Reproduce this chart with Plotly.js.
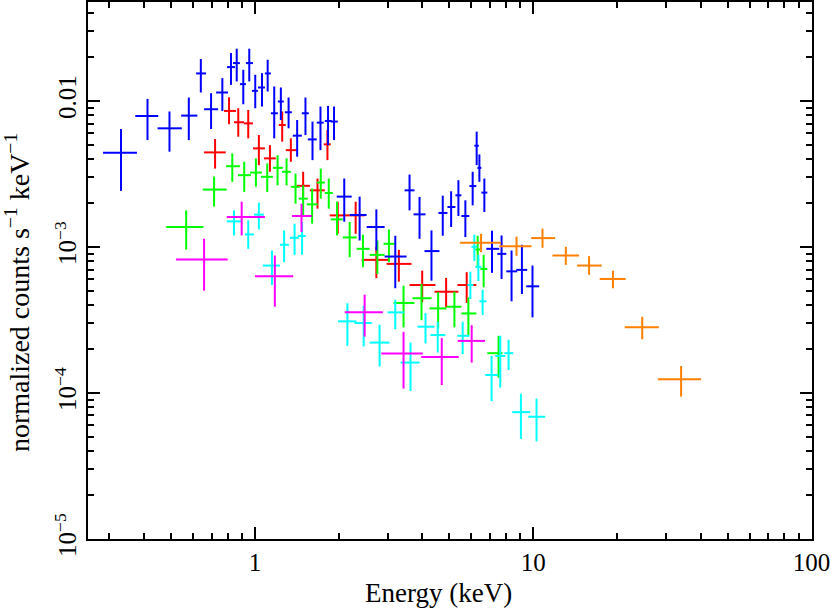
<!DOCTYPE html>
<html><head><meta charset="utf-8">
<script src="https://cdn.plot.ly/plotly-3.0.1.min.js"></script>
<style>html,body{margin:0;padding:0;background:#fff}#plot{width:830px;height:608px}</style>
</head><body><div id="plot"></div>
<script>
// ---- data (energy in keV, normalized counts s^-1 keV^-1); lo/hi are bin / error bounds ----
const redE   = [0.719,0.807,0.871,0.946,1.033,1.132,1.253,1.346,1.490,1.678,1.822,1.984,2.301,2.731,3.290,3.991,4.865,5.768];
const redElo = [0.6565,0.774,0.841,0.913,0.984,1.077,1.219,1.291,1.414,1.575,1.767,1.857,2.190,2.418,2.972,3.594,4.418,5.340];
const redEhi = [0.785,0.855,0.913,0.984,1.086,1.189,1.291,1.414,1.575,1.782,1.873,2.190,2.479,3.047,3.653,4.454,5.385,6.248];
const redF   = [4.44e-3,8.54e-3,7.14e-3,7.02e-3,4.73e-3,4.04e-3,6.84e-3,4.60e-3,2.62e-3,2.44e-3,5.04e-3,1.644e-3,1.644e-3,8.15e-4,7.65e-4,5.48e-4,4.93e-4,5.48e-4];
const redFhi = [5.48e-3,1.06e-2,8.91e-3,8.67e-3,5.84e-3,4.98e-3,8.46e-3,5.54e-3,3.27e-3,2.94e-3,6.32e-3,2.04e-3,2.04e-3,1.002e-3,9.55e-4,6.88e-4,6.13e-4,6.71e-4];
const redFlo = [3.44e-3,6.92e-3,5.69e-3,5.54e-3,3.63e-3,3.27e-3,5.26e-3,3.83e-3,2.14e-3,1.828e-3,3.93e-3,1.23e-3,1.23e-3,6.10e-4,5.78e-4,4.17e-4,3.85e-4,4.13e-4];

const greenE   = [0.566,0.713,0.829,0.915,1.008,1.107,1.206,1.299,1.399,1.490,1.605,1.724,1.842,1.972,2.190,2.444,2.754,3.030,3.420,3.968,4.553,5.210,5.848,6.316,6.636,7.510];
const greenElo = [0.480,0.6495,0.787,0.869,0.960,1.051,1.160,1.250,1.346,1.438,1.536,1.668,1.782,1.873,2.068,2.320,2.584,2.900,3.149,3.684,4.239,4.877,5.520,6.196,6.457,6.842];
const greenEhi = [0.653,0.792,0.883,0.968,1.0595,1.160,1.260,1.346,1.450,1.549,1.682,1.782,1.904,2.068,2.320,2.584,2.924,3.176,3.745,4.309,4.877,5.520,6.248,6.457,6.842,7.76];
const greenF   = [1.368e-3,2.47e-3,3.57e-3,3.10e-3,3.23e-3,3.02e-3,3.48e-3,3.27e-3,2.58e-3,2.14e-3,1.956e-3,2.76e-3,2.34e-3,1.543e-3,1.161e-3,9.70e-4,8.82e-4,1.05e-3,4.13e-4,4.45e-4,3.79e-4,3.89e-4,3.50e-4,9.60e-4,7.07e-4,1.87e-4];
const greenFhi = [1.779e-3,3.03e-3,4.37e-3,3.83e-3,4.04e-3,3.73e-3,4.25e-3,4.04e-3,3.18e-3,2.64e-3,2.51e-3,3.44e-3,2.94e-3,2.04e-3,1.481e-3,1.211e-3,1.107e-3,1.317e-3,5.42e-4,5.57e-4,4.89e-4,4.93e-4,4.51e-4,1.192e-3,8.82e-4,2.46e-4];
const greenFlo = [9.60e-4,1.887e-3,2.79e-3,2.38e-3,2.58e-3,2.38e-3,2.64e-3,2.64e-3,1.978e-3,1.644e-3,1.442e-3,2.14e-3,1.828e-3,1.198e-3,8.51e-4,7.26e-4,6.53e-4,7.86e-4,2.81e-4,3.15e-4,2.76e-4,2.81e-4,2.46e-4,7.30e-4,5.29e-4,1.272e-4];

const blueE   = [0.330,0.411,0.493,0.5785,0.639,0.6955,0.7635,0.820,0.860,0.908,0.954,1.0025,1.060,1.111,1.173,1.239,1.321,1.418,1.519,1.610,1.720,1.831,1.924,2.094,2.378,2.731,3.194,3.594,3.904,4.309,4.731,5.070,5.385,5.705,6.060,6.264,6.406,6.675,7.112,7.698,8.360,9.108,9.942];
const blueElo = [0.2845,0.3715,0.4467,0.543,0.6145,0.6565,0.725,0.794,0.834,0.883,0.928,0.9755,1.025,1.086,1.141,1.209,1.281,1.368,1.474,1.549,1.668,1.782,1.873,1.967,2.190,2.520,2.924,3.449,3.714,4.068,4.565,4.918,5.253,5.520,5.898,6.145,6.300,6.512,6.786,7.430,8.003,8.690,9.438];
const blueEhi = [0.3767,0.449,0.546,0.621,0.6675,0.737,0.800,0.848,0.883,0.928,0.984,1.025,1.086,1.141,1.209,1.270,1.357,1.474,1.561,1.668,1.767,1.888,1.984,2.227,2.520,2.924,3.506,3.745,4.102,4.604,4.918,5.253,5.520,5.898,6.248,6.379,6.512,6.842,7.553,8.003,8.763,9.517,10.51];
const blueF   = [4.42e-3,7.88e-3,6.49e-3,7.93e-3,1.543e-2,8.77e-3,1.142e-2,1.705e-2,1.816e-2,1.303e-2,1.816e-2,1.172e-2,1.236e-2,1.543e-2,8.23e-3,9.91e-3,8.36e-3,5.78e-3,8.23e-3,5.45e-3,7.10e-3,7.29e-3,7.22e-3,2.21e-3,1.655e-3,1.368e-3,8.59e-4,2.44e-3,1.671e-3,9.36e-4,1.708e-3,1.877e-3,2.257e-3,1.628e-3,2.61e-3,4.93e-3,3.48e-3,2.355e-3,9.70e-4,8.96e-4,6.80e-4,6.96e-4,5.37e-4];
const blueFhi = [6.42e-3,1.032e-2,8.46e-3,1.055e-2,1.935e-2,1.13e-2,1.433e-2,2.128e-2,2.279e-2,1.634e-2,2.279e-2,1.51e-2,1.55e-2,1.914e-2,1.256e-2,1.236e-2,1.055e-2,7.40e-3,1.055e-2,7.22e-3,9.15e-3,9.24e-3,9.15e-3,2.94e-3,2.21e-3,1.807e-3,1.192e-3,3.13e-3,2.20e-3,1.297e-3,2.245e-3,2.404e-3,2.862e-3,2.085e-3,3.27e-3,6.16e-3,4.30e-3,2.94e-3,1.29e-3,1.198e-3,9.45e-4,1.034e-3,7.45e-4];
const blueFlo = [2.42e-3,5.39e-3,4.49e-3,5.39e-3,1.142e-2,6.42e-3,8.54e-3,1.288e-2,1.36e-2,9.49e-3,1.36e-2,8.91e-3,9.15e-3,1.16e-2,5.54e-3,7.40e-3,6.49e-3,4.15e-3,5.84e-3,3.93e-3,4.60e-3,4.98e-3,5.39e-3,1.488e-3,1.107e-3,9.45e-4,5.21e-4,1.779e-3,1.137e-3,5.87e-4,1.192e-3,1.368e-3,1.628e-3,1.168e-3,1.926e-3,3.63e-3,2.79e-3,1.735e-3,6.64e-4,6.03e-4,4.24e-4,4.76e-4,3.29e-4];

const cyanE   = [0.841,0.946,1.033,1.151,1.273,1.388,1.477,2.149,2.459,2.805,3.194,3.623,4.102,4.539,5.579,5.945,6.145,6.352,6.581,7.087,7.615,8.157,9.033,10.28];
const cyanElo = [0.792,0.921,0.992,1.068,1.229,1.335,1.426,1.989,2.283,2.584,2.997,3.337,3.839,4.274,5.340,5.800,5.996,6.196,6.406,6.730,7.309,7.873,8.408,9.596];
const cyanEhi = [0.896,0.992,1.077,1.229,1.324,1.438,1.523,2.315,2.627,3.047,3.449,3.904,4.418,4.837,5.898,6.095,6.300,6.512,6.786,7.492,7.937,8.477,9.754,11.04];
const cyanF   = [1.495e-3,1.217e-3,1.663e-3,7.45e-4,1.034e-3,1.155e-3,1.187e-3,3.09e-4,3.01e-4,2.21e-4,3.56e-4,1.613e-4,2.84e-4,2.49e-4,2.46e-4,5.48e-4,1.002e-3,7.30e-4,4.24e-4,1.326e-4,1.79e-4,1.87e-4,7.38e-5,6.86e-5];
const cyanFhi = [1.779e-3,1.519e-3,2.01e-3,9.45e-4,1.297e-3,1.442e-3,1.481e-3,4.11e-4,3.95e-4,2.93e-4,4.35e-4,2.21e-4,3.52e-4,3.07e-4,3.07e-4,6.77e-4,1.211e-3,8.82e-4,5.09e-4,1.79e-4,2.46e-4,2.31e-4,9.87e-5,9.12e-5];
const cyanFlo = [1.198e-3,9.70e-4,1.317e-3,5.48e-4,7.86e-4,8.82e-4,8.82e-4,2.10e-4,2.08e-4,1.514e-4,2.73e-4,1.029e-4,2.18e-4,1.89e-4,1.84e-4,4.40e-4,8.02e-4,5.84e-4,3.41e-4,8.78e-5,1.086e-4,1.435e-4,4.84e-5,4.66e-5];

const magE   = [0.6565,0.896,1.179,1.470,2.479,3.420,4.692,6.011];
const magElo = [0.520,0.792,1.0,1.360,2.102,2.845,3.959,5.353];
const magEhi = [0.798,1.086,1.372,1.605,2.883,4.011,5.399,6.713];
const magF   = [8.19e-4,1.603e-3,6.30e-4,1.628e-3,3.56e-4,1.86e-4,1.763e-4,2.27e-4];
const magFhi = [1.137e-3,2.04e-3,8.73e-4,1.978e-3,4.71e-4,2.62e-4,2.37e-4,2.91e-4];
const magFlo = [5.01e-4,1.198e-3,3.89e-4,1.264e-3,2.43e-4,1.069e-4,1.131e-4,1.613e-4];

const orE   = [6.495,8.710,10.80,13.10,15.88,19.35,24.65,34.01];
const orElo = [5.462,7.553,9.835,11.73,14.38,17.34,21.32,28.05];
const orEhi = [7.660,9.860,11.99,14.62,17.63,21.49,28.29,40.11];
const orF   = [1.067e-3,1.009e-3,1.149e-3,8.73e-4,7.45e-4,6.03e-4,2.81e-4,1.238e-4];
const orFhi = [1.23e-3,1.174e-3,1.332e-3,1.002e-3,8.64e-4,6.88e-4,3.32e-4,1.528e-4];
const orFlo = [9.21e-4,8.69e-4,9.86e-4,7.53e-4,6.43e-4,5.21e-4,2.33e-4,9.42e-5];

const xTickVals = [1, 10, 100];
const xTickText = ['1', '10', '100'];
const yTickVals = [1e-5, 1e-4, 1e-3, 1e-2];
const yTickText = ['10<sup>\u22125</sup>', '10<sup>\u22124</sup>', '10<sup>\u22123</sup>', '0.01'];
const xTitle = 'Energy (keV)';
const yTitle = 'normalized counts s<sup>\u22121</sup> keV<sup>\u22121</sup>';

// ---- build ----
function cross(E, Elo, Ehi, F, Flo, Fhi, color) {
  return {
    x: E, y: F, type: 'scatter', mode: 'markers',
    marker: {size: 1, color: color, opacity: 0},
    error_x: {type: 'data', symmetric: false,
      array: E.map((v, i) => Ehi[i] - v), arrayminus: E.map((v, i) => v - Elo[i]),
      color: color, thickness: 2, width: 0},
    error_y: {type: 'data', symmetric: false,
      array: F.map((v, i) => Fhi[i] - v), arrayminus: F.map((v, i) => v - Flo[i]),
      color: color, thickness: 2, width: 0},
    hoverinfo: 'skip', showlegend: false
  };
}
const data = [
  cross(redE, redElo, redEhi, redF, redFlo, redFhi, '#ff0000'),
  cross(greenE, greenElo, greenEhi, greenF, greenFlo, greenFhi, '#00ff00'),
  cross(blueE, blueElo, blueEhi, blueF, blueFlo, blueFhi, '#0000ff'),
  cross(cyanE, cyanElo, cyanEhi, cyanF, cyanFlo, cyanFhi, '#00ffff'),
  cross(magE, magElo, magEhi, magF, magFlo, magFhi, '#ff00ff'),
  cross(orE, orElo, orEhi, orF, orFlo, orFhi, '#ff8000')
];

function minors(d0, d1) {
  const out = [];
  for (let d = d0; d <= d1; d++) for (let k = 2; k <= 9; k++) out.push(k * Math.pow(10, d));
  return out;
}
const axisCommon = {
  type: 'log', tickmode: 'array', ticks: 'inside', ticklen: 12, tickwidth: 2, tickcolor: '#000',
  showline: true, linewidth: 2, linecolor: '#000', mirror: 'allticks', ticklabeloverflow: 'allow',
  showgrid: false, zeroline: false, tickfont: {size: 25, color: '#000'}
};
const layout = {
  width: 830, height: 608,
  margin: {l: 88, r: 18, t: 2, b: 69},
  paper_bgcolor: '#fff', plot_bgcolor: '#fff',
  font: {family: '"Liberation Serif", "Times New Roman", serif', size: 25, color: '#000'},
  xaxis: Object.assign({}, axisCommon, {
    range: [-0.6, 2.002], tickvals: xTickVals, ticktext: xTickText,
    minor: {tickmode: 'array', tickvals: minors(-1, 1), ticks: 'inside', ticklen: 6, tickwidth: 2, tickcolor: '#000', showgrid: false}
  }),
  yaxis: Object.assign({}, axisCommon, {
    range: [-5.001, Math.log10(0.0476)], tickvals: yTickVals, ticktext: yTickText, tickangle: -90,
    minor: {tickmode: 'array', tickvals: minors(-5, -2), ticks: 'inside', ticklen: 6, tickwidth: 2, tickcolor: '#000', showgrid: false}
  }),
  annotations: [
    {text: xTitle, xref: 'paper', yref: 'paper', x: 0.4848, y: -0.1006, showarrow: false,
     xanchor: 'center', yanchor: 'middle', font: {size: 27, color: '#000'}},
    {text: yTitle, xref: 'paper', yref: 'paper', x: -0.098, y: 0.458, showarrow: false, textangle: -90,
     xanchor: 'center', yanchor: 'middle', font: {size: 28, color: '#000'}}
  ]
};
Plotly.newPlot('plot', data, layout, {staticPlot: true, displayModeBar: false});
</script>
</body></html>
